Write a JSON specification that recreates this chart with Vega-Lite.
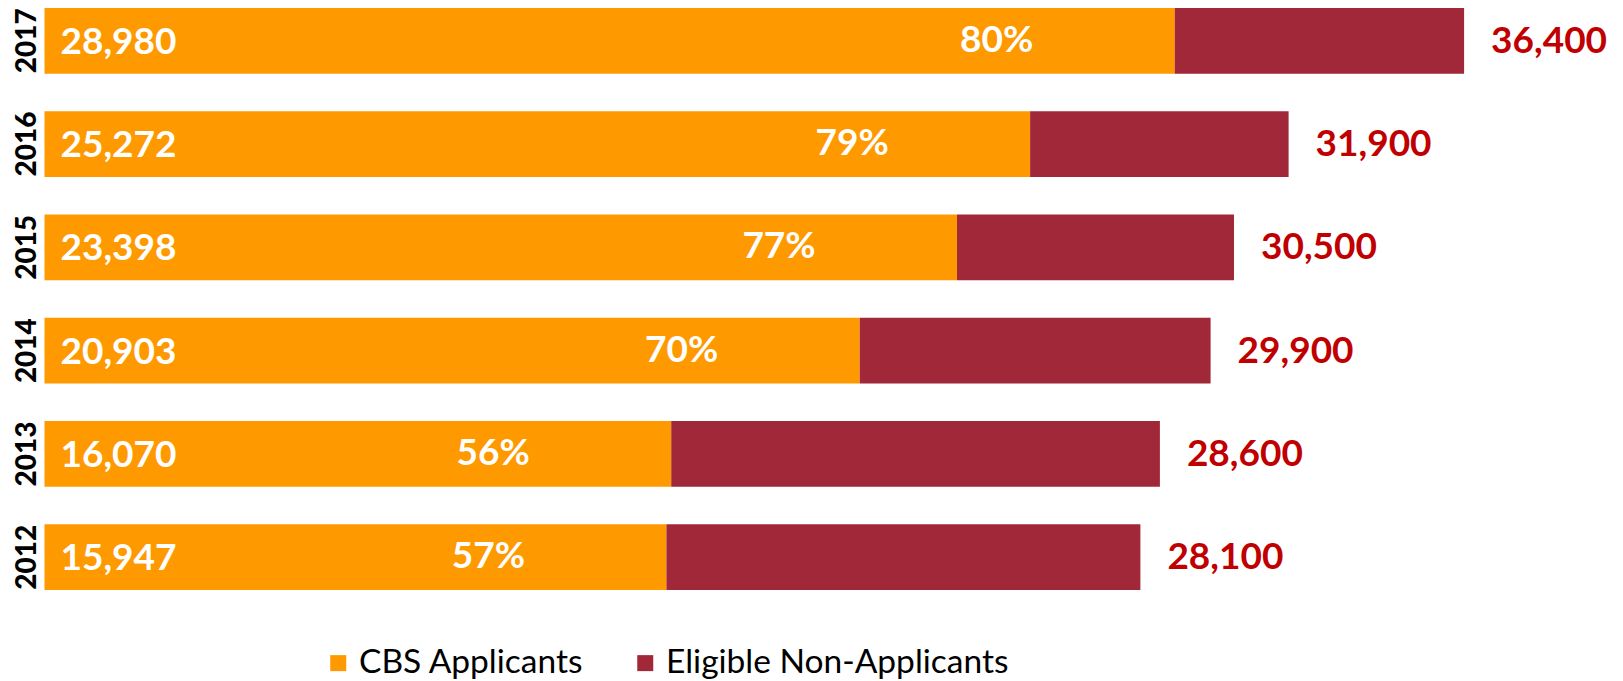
{
  "$schema": "https://vega.github.io/schema/vega-lite/v6.json",
  "width": 1560,
  "height": 598,
  "autosize": {"type": "none"},
  "padding": {"left": 44.5, "top": 0, "right": 18.5, "bottom": 83},
  "background": "white",
  "config": {
    "view": {"stroke": null},
    "font": "Lato",
    "legend": {"padding": 0}
  },
  "datasets": {
    "segments": [
      {"year": "2017", "group": "CBS Applicants", "count": 28980},
      {"year": "2017", "group": "Eligible Non-Applicants", "count": 7420},
      {"year": "2016", "group": "CBS Applicants", "count": 25272},
      {"year": "2016", "group": "Eligible Non-Applicants", "count": 6628},
      {"year": "2015", "group": "CBS Applicants", "count": 23398},
      {"year": "2015", "group": "Eligible Non-Applicants", "count": 7102},
      {"year": "2014", "group": "CBS Applicants", "count": 20903},
      {"year": "2014", "group": "Eligible Non-Applicants", "count": 8997},
      {"year": "2013", "group": "CBS Applicants", "count": 16070},
      {"year": "2013", "group": "Eligible Non-Applicants", "count": 12530},
      {"year": "2012", "group": "CBS Applicants", "count": 15947},
      {"year": "2012", "group": "Eligible Non-Applicants", "count": 12153}
    ],
    "labels": [
      {"year": "2017", "applicants": 28980, "share": "80%", "total": 36400},
      {"year": "2016", "applicants": 25272, "share": "79%", "total": 31900},
      {"year": "2015", "applicants": 23398, "share": "77%", "total": 30500},
      {"year": "2014", "applicants": 20903, "share": "70%", "total": 29900},
      {"year": "2013", "applicants": 16070, "share": "56%", "total": 28600},
      {"year": "2012", "applicants": 15947, "share": "57%", "total": 28100}
    ]
  },
  "encoding": {
    "y": {
      "field": "year",
      "type": "ordinal",
      "sort": "descending",
      "scale": {"paddingInner": 0.364, "paddingOuter": 0.0775},
      "axis": {
        "title": null,
        "domain": false,
        "ticks": false,
        "tickSize": 0,
        "labelAngle": 270,
        "labelAlign": "center",
        "labelBaseline": "alphabetic",
        "labelPadding": 9,
        "labelFont": "Lato",
        "labelFontSize": 28,
        "labelFontWeight": 900,
        "labelColor": "#000000"
      }
    }
  },
  "layer": [
    {
      "data": {"name": "segments"},
      "mark": {"type": "bar"},
      "encoding": {
        "x": {
          "field": "count",
          "type": "quantitative",
          "stack": "zero",
          "scale": {"domain": [0, 40000], "nice": false},
          "axis": null
        },
        "color": {
          "field": "group",
          "type": "nominal",
          "scale": {
            "domain": ["CBS Applicants", "Eligible Non-Applicants"],
            "range": ["#FF9900", "#A02838"]
          },
          "legend": {
            "title": null,
            "orient": "none",
            "direction": "horizontal",
            "legendX": 277,
            "legendY": 646,
            "symbolType": "square",
            "symbolSize": 256,
            "symbolStrokeWidth": 0,
            "labelFont": "Lato",
            "labelFontSize": 33.5,
            "labelLimit": 0,
            "labelColor": "#000000",
            "labelOffset": 4,
            "columnPadding": 44
          }
        },
        "order": {"field": "group", "sort": "ascending"}
      }
    },
    {
      "data": {"name": "labels"},
      "mark": {"type": "text", "align": "left", "baseline": "middle", "dx": 16, "dy": 2, "fontSize": 37, "fontWeight": "bold", "font": "Lato", "color": "#FFFFFF"},
      "encoding": {
        "x": {"datum": 0, "type": "quantitative"},
        "text": {"field": "applicants", "type": "quantitative", "format": ","}
      }
    },
    {
      "data": {"name": "labels"},
      "mark": {"type": "text", "align": "center", "baseline": "middle", "dx": -178, "dy": 0, "fontSize": 37, "fontWeight": "bold", "font": "Lato", "color": "#FFFFFF"},
      "encoding": {
        "x": {"field": "applicants", "type": "quantitative"},
        "text": {"field": "share", "type": "nominal"}
      }
    },
    {
      "data": {"name": "labels"},
      "mark": {"type": "text", "align": "left", "baseline": "middle", "dx": 27, "dy": 1, "fontSize": 37, "fontWeight": "bold", "font": "Lato", "color": "#C00000"},
      "encoding": {
        "x": {"field": "total", "type": "quantitative"},
        "text": {"field": "total", "type": "quantitative", "format": ","}
      }
    }
  ]
}
